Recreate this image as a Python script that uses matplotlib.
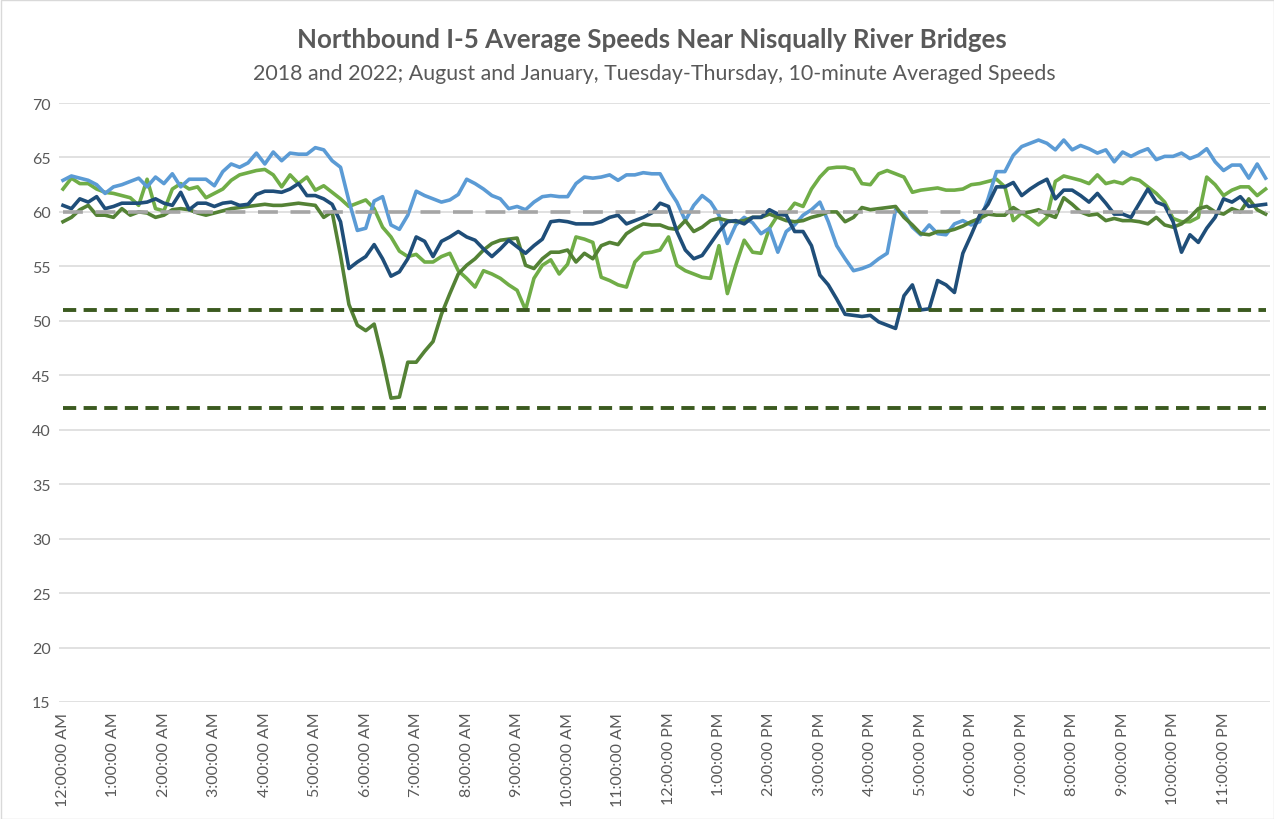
import matplotlib
matplotlib.use("Agg")
import matplotlib.pyplot as plt
from matplotlib.patches import Rectangle

# 10-minute averaged speeds (mph), 144 intervals from 12:00 AM to 11:50 PM
light_blue = [
    62.9, 63.3, 63.1, 62.9, 62.5, 61.7, 62.3, 62.5, 62.8, 63.1, 62.3, 63.2,
    62.6, 63.5, 62.3, 63.0, 63.0, 63.0, 62.4, 63.7, 64.4, 64.1, 64.5, 65.4,
    64.4, 65.5, 64.7, 65.4, 65.3, 65.3, 65.9, 65.7, 64.7, 64.1, 61.0, 58.3,
    58.5, 61.0, 61.4, 58.8, 58.4, 59.7, 61.9, 61.5, 61.2, 60.9, 61.1, 61.6,
    63.0, 62.6, 62.1, 61.5, 61.2, 60.3, 60.5, 60.2, 60.9, 61.4, 61.5, 61.4,
    61.4, 62.6, 63.2, 63.1, 63.2, 63.4, 62.9, 63.4, 63.4, 63.6, 63.5, 63.5,
    62.1, 60.9, 59.2, 60.6, 61.5, 60.9, 59.7, 57.1, 58.8, 59.5, 59.0, 58.0,
    58.5, 56.3, 58.2, 58.8, 59.7, 60.2, 60.9, 59.1, 56.9, 55.7, 54.6, 54.8,
    55.1, 55.7, 56.2, 60.2, 59.8, 58.6, 57.9, 58.8, 58.0, 57.9, 58.9, 59.2,
    58.8, 59.1, 61.2, 63.7, 63.7, 65.2, 66.0, 66.3, 66.6, 66.3, 65.7, 66.6,
    65.7, 66.1, 65.8, 65.4, 65.7, 64.6, 65.5, 65.1, 65.5, 65.8, 64.8, 65.1,
    65.1, 65.4, 64.9, 65.2, 65.8, 64.6, 63.8, 64.3, 64.3, 63.1, 64.4, 63.1,
]

light_green = [
    62.1, 63.1, 62.6, 62.6, 62.1, 61.8, 61.7, 61.5, 61.3, 60.6, 63.0, 60.3,
    60.1, 62.1, 62.6, 62.1, 62.3, 61.3, 61.7, 62.1, 62.9, 63.4, 63.6, 63.8,
    63.9, 63.4, 62.3, 63.4, 62.6, 63.2, 62.0, 62.4, 61.8, 61.2, 60.5, 60.8,
    61.1, 60.3, 58.6, 57.7, 56.4, 55.9, 56.1, 55.4, 55.4, 55.9, 56.2, 54.6,
    53.9, 53.1, 54.6, 54.3, 53.9, 53.3, 52.8, 51.0, 53.9, 55.1, 55.6, 54.3,
    55.2, 57.7, 57.5, 57.2, 54.0, 53.7, 53.3, 53.1, 55.4, 56.2, 56.3, 56.5,
    57.7, 55.1, 54.6, 54.3, 54.0, 53.9, 56.9, 52.5, 55.1, 57.4, 56.3, 56.2,
    58.5, 59.7, 59.8, 60.8, 60.5, 62.1, 63.2, 64.0, 64.1, 64.1, 63.9, 62.6,
    62.5, 63.5, 63.8, 63.5, 63.2, 61.8, 62.0, 62.1, 62.2, 62.0, 62.0, 62.1,
    62.5, 62.6, 62.8, 63.0, 62.3, 59.2, 59.9, 59.4, 58.8, 59.5, 62.8, 63.3,
    63.1, 62.9, 62.6, 63.4, 62.6, 62.8, 62.6, 63.1, 62.9, 62.3, 61.7, 60.9,
    59.4, 59.1, 59.1, 59.5, 63.2, 62.5, 61.5, 62.0, 62.3, 62.3, 61.5, 62.1,
]

dark_green = [
    59.1, 59.5, 60.2, 60.6, 59.7, 59.7, 59.5, 60.3, 59.7, 60.0, 59.9, 59.5,
    59.7, 60.2, 60.3, 60.2, 59.9, 59.7, 59.9, 60.1, 60.3, 60.4, 60.5, 60.6,
    60.7, 60.6, 60.6, 60.7, 60.8, 60.7, 60.6, 59.5, 60.0, 56.0, 51.5, 49.6,
    49.1, 49.7, 46.5, 42.9, 43.0, 46.2, 46.2, 47.2, 48.1, 50.6, 52.5, 54.3,
    55.1, 55.7, 56.5, 57.1, 57.4, 57.5, 57.6, 55.1, 54.8, 55.7, 56.3, 56.3,
    56.5, 55.4, 56.2, 55.7, 56.9, 57.2, 57.0, 58.0, 58.5, 58.9, 58.8, 58.8,
    58.5, 58.4, 59.2, 58.2, 58.6, 59.2, 59.4, 59.2, 59.1, 59.2, 59.5, 59.5,
    59.8, 59.5, 59.2, 59.1, 59.2, 59.5, 59.7, 60.0, 60.0, 59.1, 59.5, 60.4,
    60.2, 60.3, 60.4, 60.5, 59.5, 58.8, 58.0, 57.9, 58.2, 58.2, 58.4, 58.7,
    59.1, 59.4, 59.8, 59.7, 59.7, 60.4, 59.9, 60.0, 60.2, 59.8, 59.5, 61.3,
    60.7, 60.0, 59.7, 59.8, 59.2, 59.4, 59.2, 59.2, 59.1, 58.9, 59.5, 58.8,
    58.6, 58.9, 59.5, 60.3, 60.5, 60.0, 59.8, 60.3, 60.0, 61.2, 60.2, 59.8,
]

dark_blue = [
    60.6, 60.3, 61.2, 60.9, 61.4, 60.3, 60.5, 60.8, 60.8, 60.8, 60.9, 61.2,
    60.8, 60.6, 61.8, 60.2, 60.8, 60.8, 60.5, 60.8, 60.9, 60.6, 60.7, 61.6,
    61.9, 61.9, 61.8, 62.1, 62.6, 61.5, 61.5, 61.2, 60.7, 59.1, 54.8, 55.4,
    55.9, 57.0, 55.7, 54.1, 54.5, 55.7, 57.7, 57.3, 55.9, 57.3, 57.7, 58.2,
    57.7, 57.4, 56.6, 55.9, 56.6, 57.4, 56.8, 56.2, 56.9, 57.5, 59.1, 59.2,
    59.1, 58.9, 58.9, 58.9, 59.1, 59.5, 59.7, 58.9, 59.2, 59.5, 59.9, 60.8,
    60.5, 58.2, 56.5, 55.7, 56.0, 57.1, 58.2, 59.1, 59.2, 58.9, 59.5, 59.5,
    60.2, 59.8, 59.7, 58.2, 58.2, 56.9, 54.2, 53.3, 52.0, 50.6, 50.5, 50.4,
    50.5, 49.9, 49.6, 49.3, 52.3, 53.3, 51.0, 51.1, 53.7, 53.3, 52.6, 56.2,
    57.9, 59.7, 60.7, 62.3, 62.3, 62.7, 61.5, 62.1, 62.6, 63.0, 61.2, 62.0,
    62.0, 61.5, 60.9, 61.7, 60.8, 59.8, 59.8, 59.5, 60.8, 62.1, 60.9, 60.6,
    59.1, 56.3, 57.9, 57.2, 58.5, 59.5, 61.2, 60.9, 61.4, 60.5, 60.6, 60.7,
]

# Reference speed levels
reference_gray = 60
reference_green = [51, 42]

hour_labels = [
    "12:00:00 AM", "1:00:00 AM", "2:00:00 AM", "3:00:00 AM", "4:00:00 AM",
    "5:00:00 AM", "6:00:00 AM", "7:00:00 AM", "8:00:00 AM", "9:00:00 AM",
    "10:00:00 AM", "11:00:00 AM", "12:00:00 PM", "1:00:00 PM", "2:00:00 PM",
    "3:00:00 PM", "4:00:00 PM", "5:00:00 PM", "6:00:00 PM", "7:00:00 PM",
    "8:00:00 PM", "9:00:00 PM", "10:00:00 PM", "11:00:00 PM",
]
y_ticks = [15, 20, 25, 30, 35, 40, 45, 50, 55, 60, 65, 70]

title = "Northbound I-5 Average Speeds Near Nisqually River Bridges"
subtitle = "2018 and 2022; August and January, Tuesday-Thursday, 10-minute Averaged Speeds"

plt.rcParams["font.family"] = ["Lato", "DejaVu Sans"]
text_color = "#595959"
grid_color = "#D9D9D9"

W, H = 1274, 820
fig = plt.figure(figsize=(W / 100, H / 100), dpi=100)
fig.patch.set_facecolor("white")

# plot area in pixel coordinates
x0, x1 = 58.8, 1269.8
y_top, y_bot = 104, 703
ax = fig.add_axes([x0 / W, (H - y_bot) / H, (x1 - x0) / W, (y_bot - y_top) / H])

n = len(light_blue)
xs = list(range(n))

line_w = 2.6
ax.plot(xs, light_green, color="#70AD47", lw=line_w, solid_joinstyle="round", zorder=3)
ax.plot(xs, light_blue, color="#5B9BD5", lw=line_w, solid_joinstyle="round", zorder=3)
ax.plot(xs, dark_green, color="#548235", lw=line_w, solid_joinstyle="round", zorder=3)
ax.plot(xs, dark_blue, color="#1F4E79", lw=line_w, solid_joinstyle="round", zorder=3)

ax.plot([0, n - 1], [reference_gray] * 2, color="#A5A5A5", lw=2.6,
        dashes=(5.5, 3.5), zorder=4)
for level in reference_green:
    ax.plot([0, n - 1], [level] * 2, color="#3B5A1F", lw=2.8,
            dashes=(3.4, 1.9), zorder=4)

ax.set_xlim(-0.5, n - 0.5)
ax.set_ylim(15, 70)
ax.set_yticks(y_ticks)
ax.set_yticklabels([str(v) for v in y_ticks])
ax.set_xticks(list(range(0, n, 6)))
ax.set_xticklabels(hour_labels, rotation=90, va="top", ha="center")
ax.grid(axis="y", color=grid_color, lw=1.1, zorder=0)
ax.set_axisbelow(True)
for s in ax.spines.values():
    s.set_visible(False)
ax.tick_params(axis="both", length=0, colors=text_color, labelsize=11.5)
ax.tick_params(axis="y", pad=6)
ax.tick_params(axis="x", pad=7)

fig.text(652 / W, 1 - 40 / H, title, ha="center", va="center",
         fontsize=18.6, fontweight="bold", color=text_color)
fig.text(654 / W, 1 - 74 / H, subtitle, ha="center", va="center",
         fontsize=15.4, color=text_color)

# chart border
fig.add_artist(Rectangle((0.5 / W, 0.5 / H), 1 - 1.0 / W, 1 - 1.0 / H,
                         transform=fig.transFigure, fill=False,
                         edgecolor=grid_color, lw=1.0))

fig.savefig("out.png", dpi=100, facecolor="white")
